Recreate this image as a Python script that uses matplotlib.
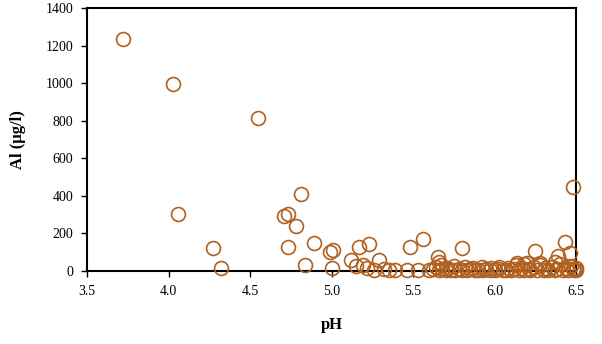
import matplotlib.pyplot as plt

# pH and aluminium concentration (ug/l)
ph_high = [3.72, 4.03, 4.06, 4.27, 4.32, 4.55, 4.71, 4.73, 4.78, 4.73, 4.81,
           4.84, 4.89, 4.99, 5.01, 5.00, 5.12, 5.17, 5.23, 5.15, 5.19, 5.29,
           5.48, 5.56, 5.65, 5.66, 5.80, 6.25, 6.43, 6.46, 6.39, 6.37, 6.48,
           6.14, 6.18, 6.28]
al_high = [1235, 995, 303, 122, 16, 815, 293, 303, 240, 128, 410,
           32, 149, 101, 112, 16, 59, 128, 144, 27, 30, 59,
           128, 170, 75, 50, 122, 106, 154, 96, 80, 50, 447,
           40, 35, 45]

ph_low = [5.22, 5.26, 5.32, 5.35, 5.39, 5.46, 5.53, 5.60, 5.62, 5.64, 5.66,
          5.67, 5.68, 5.70, 5.71, 5.73, 5.75, 5.76, 5.78, 5.80, 5.82, 5.83,
          5.85, 5.87, 5.88, 5.90, 5.92, 5.93, 5.95, 5.97, 5.98, 6.00, 6.02,
          6.03, 6.05, 6.07, 6.08, 6.10, 6.12, 6.13, 6.15, 6.17, 6.18, 6.20,
          6.21, 6.22, 6.24, 6.26, 6.28, 6.30, 6.31, 6.33, 6.35, 6.37, 6.38,
          6.40, 6.42, 6.44, 6.45, 6.47, 6.48, 6.49, 6.50, 6.50]
al_low = [15, 8, 10, 5, 5, 8, 6, 5, 10, 20, 8,
          30, 12, 5, 18, 8, 25, 5, 12, 8, 20, 5,
          10, 15, 5, 8, 20, 5, 12, 6, 18, 5, 10,
          22, 8, 5, 15, 6, 12, 30, 5, 18, 8, 40,
          12, 5, 20, 8, 30, 5, 15, 8, 22, 5, 12,
          35, 8, 18, 5, 25, 10, 5, 15, 3]

plt.rcParams['font.family'] = ['Liberation Serif', 'DejaVu Serif']

fig = plt.figure(figsize=(6.02, 3.44), dpi=100)
ax = fig.add_axes([0.1445, 0.2122, 0.8125, 0.7645])

color = '#B0601F'
for x, y in [(ph_high, al_high), (ph_low, al_low)]:
    ax.plot(x, y, linestyle='none', marker='o', markersize=10,
            markerfacecolor='none', markeredgecolor=color,
            markeredgewidth=1.2, clip_on=False, zorder=3)

ax.set_xlim(3.5, 6.5)
ax.set_ylim(0, 1400)
ax.set_xticks([3.5, 4.0, 4.5, 5.0, 5.5, 6.0, 6.5])
ax.set_xticklabels(['3.5', '4.0', '4.5', '5.0', '5.5', '6.0', '6.5'])
ax.set_yticks(range(0, 1401, 200))

for s in ax.spines.values():
    s.set_linewidth(1.5)
ax.tick_params(direction='out', length=4, width=1, labelsize=10, pad=6)

ax.set_xlabel('pH', fontsize=12, fontweight='bold', labelpad=14)
ax.set_ylabel('Al (µg/l)', fontsize=12, fontweight='bold', labelpad=14)

fig.savefig('out.png', dpi=100)
